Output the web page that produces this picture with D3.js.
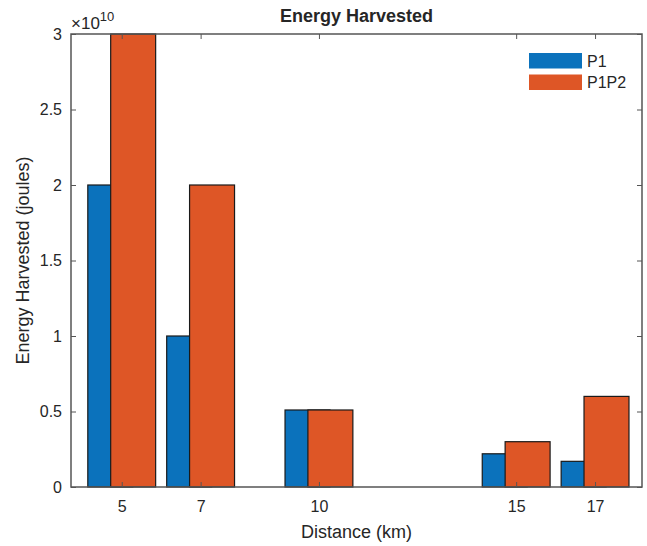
<!DOCTYPE html>
<html>
<head>
<meta charset="utf-8">
<script src="https://cdn.jsdelivr.net/npm/d3@7"></script>
<style>
  body { margin: 0; background: #fff; }
  text { font-family: "Liberation Sans", Arial, sans-serif; fill: #262626; }
</style>
</head>
<body>
<div id="chart"></div>
<script>
// Data
const distances = [5, 7, 10, 15, 17];
const p1 = [2.0e10, 1.0e10, 0.51e10, 0.22e10, 0.17e10];
const p1p2 = [3.0e10, 2.0e10, 0.51e10, 0.30e10, 0.60e10];
const yTicks = [0, 0.5e10, 1e10, 1.5e10, 2e10, 2.5e10, 3e10];
const seriesNames = ["P1", "P1P2"];
const colors = ["#0B72BC", "#DE5626"];

const W = 647, H = 546;
const plot = { left: 71, right: 642, top: 34, bottom: 487 };

const svg = d3.select("#chart").append("svg")
  .attr("width", W).attr("height", H);

const x = d3.scaleLinear().domain([3.714, 18.19]).range([plot.left, plot.right]);
const y = d3.scaleLinear().domain([0, 3e10]).range([plot.bottom, plot.top]);

const barW = 1.14;   // bar width in x units
const shift = 0.29;  // group offset in x units

// Bars: P1 first, P1P2 drawn on top and overlapping
[p1, p1p2].forEach((vals, s) => {
  svg.append("g").selectAll("rect")
    .data(distances.map((d, i) => ({ d, v: vals[i] })))
    .join("rect")
    .attr("x", (o) => x(o.d + (s === 0 ? -shift : shift) - barW / 2))
    .attr("width", x(barW) - x(0))
    .attr("y", (o) => y(o.v))
    .attr("height", (o) => y(0) - y(o.v))
    .attr("fill", colors[s])
    .attr("stroke", "#1a1a1a")
    .attr("stroke-width", 1.2);
});

// Axes
const axisCol = "#555";
function styleAxis(g) {
  g.select(".domain").remove();
  g.selectAll(".tick line").attr("stroke", axisCol).attr("stroke-width", 1);
  g.selectAll(".tick text").style("font-size", "16px").attr("fill", "#262626");
}
svg.append("g")
  .attr("transform", `translate(0,${plot.bottom})`)
  .call(d3.axisBottom(x).tickValues(distances).tickSize(-5).tickPadding(14).tickFormat(d3.format("d")))
  .call(styleAxis);
svg.append("g")
  .attr("transform", `translate(0,${plot.top})`)
  .call(d3.axisTop(x).tickValues(distances).tickSize(-5).tickFormat(""))
  .call(styleAxis);
svg.append("g")
  .attr("transform", `translate(${plot.left},0)`)
  .call(d3.axisLeft(y).tickValues(yTicks).tickSize(-5).tickPadding(9).tickFormat((d) => d / 1e10))
  .call(styleAxis);
svg.append("g")
  .attr("transform", `translate(${plot.right},0)`)
  .call(d3.axisRight(y).tickValues(yTicks).tickSize(-5).tickFormat(""))
  .call(styleAxis);

// Axes box
svg.append("rect")
  .attr("x", plot.left).attr("y", plot.top)
  .attr("width", plot.right - plot.left).attr("height", plot.bottom - plot.top)
  .attr("fill", "none").attr("stroke", axisCol).attr("stroke-width", 1.5);

// Exponent label
const expo = svg.append("text").attr("x", plot.left).attr("y", 29).style("font-size", "17px");
expo.append("tspan").text("\u00d710");
expo.append("tspan").attr("dy", -8).style("font-size", "13px").text("10");

// Title and axis labels
svg.append("text")
  .attr("x", (plot.left + plot.right) / 2).attr("y", 22)
  .attr("text-anchor", "middle")
  .style("font-size", "18px").style("font-weight", "bold").attr("fill", "#000")
  .text("Energy Harvested");
svg.append("text")
  .attr("x", (plot.left + plot.right) / 2).attr("y", 538)
  .attr("text-anchor", "middle").style("font-size", "18px")
  .text("Distance (km)");
svg.append("text")
  .attr("transform", `translate(28.5,${(plot.top + plot.bottom) / 2}) rotate(-90)`)
  .attr("text-anchor", "middle").style("font-size", "18px")
  .text("Energy Harvested (joules)");

// Legend
const legend = svg.append("g").attr("transform", "translate(529,53)");
seriesNames.forEach((name, i) => {
  const row = legend.append("g").attr("transform", `translate(0,${i * 21.5})`);
  row.append("rect").attr("width", 53).attr("height", 15.5).attr("fill", colors[i]);
  row.append("text").attr("x", 58).attr("y", 8).attr("dy", "0.35em")
    .style("font-size", "16px").attr("fill", "#111").text(name);
});
</script>
</body>
</html>
